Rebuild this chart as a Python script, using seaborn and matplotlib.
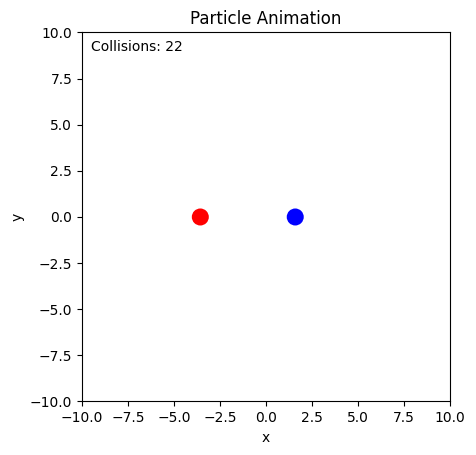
import matplotlib
matplotlib.use("Agg")
import matplotlib.pyplot as plt
import pandas as pd
import seaborn as sns

# 입자 위치 (애니메이션의 한 프레임)
particles = ["red", "blue"]
pos_x = [-3.57, 1.59]
pos_y = [0.0, 0.0]
collisions = 22

df = pd.DataFrame({"particle": particles, "x": pos_x, "y": pos_y})

fig = plt.figure(figsize=(4.76, 4.55), dpi=100)
ax = fig.add_axes([0.1723, 0.1176, 0.773, 0.811])

sns.scatterplot(data=df, x="x", y="y", hue="particle",
                palette={"red": "red", "blue": "blue"},
                s=150, edgecolor="none", legend=False, ax=ax)

ax.set_xlim(-10, 10)
ax.set_ylim(-10, 10)
ax.set_title("Particle Animation")
ax.set_xlabel("x")
ax.set_ylabel("y")
ax.text(0.025, 0.95, f"Collisions: {collisions}", transform=ax.transAxes)

fig.savefig("out.png", dpi=100)
